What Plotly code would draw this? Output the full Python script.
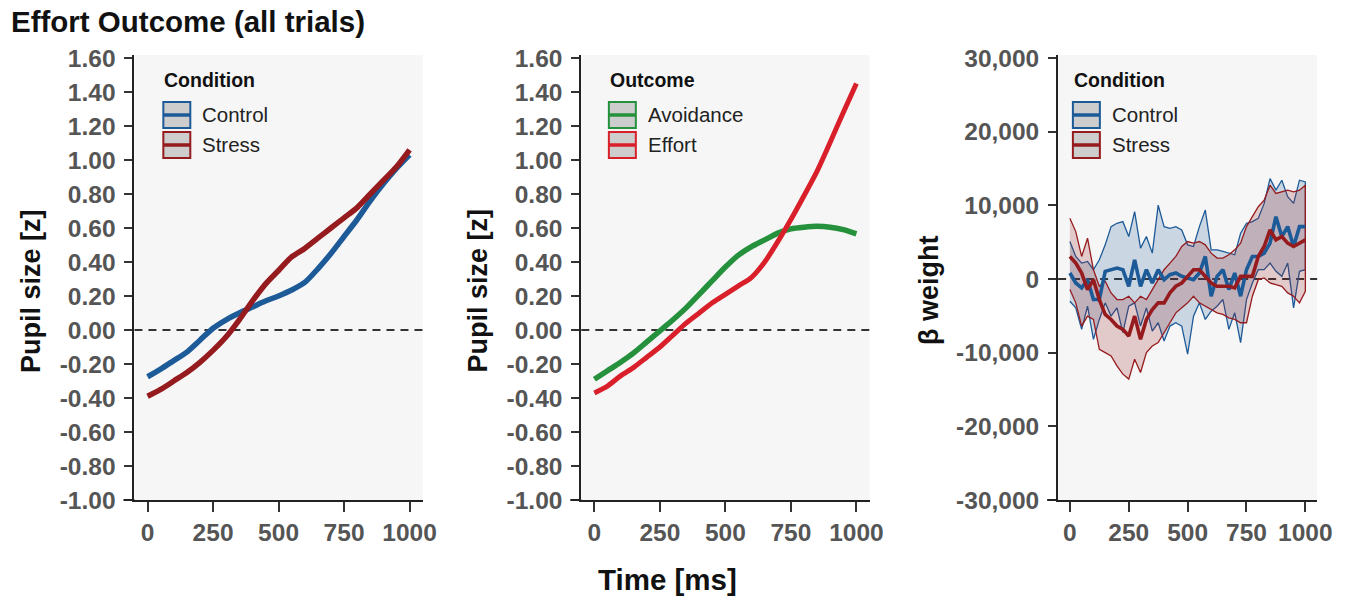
import plotly.graph_objects as go

# ---------------- data ----------------
time_ms = [0, 50, 100, 150, 200, 250, 300, 350, 400, 450, 500, 550, 600, 650, 700, 750, 800, 850, 900, 950, 1000]

control_pupil = [-0.275, -0.23, -0.18, -0.13, -0.06, 0.01, 0.06, 0.10, 0.135, 0.17, 0.20,
                 0.235, 0.28, 0.36, 0.45, 0.55, 0.65, 0.76, 0.86, 0.95, 1.03]
stress_pupil = [-0.39, -0.35, -0.30, -0.25, -0.19, -0.12, -0.04, 0.06, 0.17, 0.27, 0.35,
                0.43, 0.48, 0.54, 0.60, 0.66, 0.72, 0.80, 0.88, 0.96, 1.06]

avoidance_pupil = [-0.29, -0.24, -0.19, -0.135, -0.07, -0.005, 0.06, 0.13, 0.21, 0.29, 0.37,
                   0.44, 0.49, 0.53, 0.57, 0.595, 0.605, 0.61, 0.605, 0.59, 0.565]
effort_pupil = [-0.37, -0.33, -0.27, -0.22, -0.16, -0.10, -0.03, 0.04, 0.10, 0.16, 0.21,
                0.26, 0.31, 0.40, 0.52, 0.65, 0.79, 0.935, 1.105, 1.28, 1.45]

beta_time = [i * 25 for i in range(41)]
control_beta = [810, -540, -1215, -90, -2790, -2790, 1035, 1260, 1485, 1260, -990, 2610, -990, 1260,
                -540, 1260, -90, 585, 810, 360, 135, -90, 810, 3060, -2340, 360, 1260, -1440, 810,
                -2340, 1260, 3060, 3060, 3510, 4860, 8460, 5760, 7110, 4410, 7110, 7110]
control_upper = [5085, 3060, 2160, 2385, 1260, 2610, 4635, 7110, 7560, 7785, 5760, 9135, 4185, 5760,
                 3510, 10035, 7110, 6885, 7110, 6660, 4635, 4410, 7110, 9360, 3960, 3960, 3735, 3510,
                 3285, 6210, 7560, 7785, 8235, 10260, 13635, 12060, 13410, 11160, 10260, 13410, 13185]
control_lower = [-3015, -3915, -6840, -3690, -8190, -5490, -3240, -5040, -3915, -7290, -3690, -3240,
                 -6390, -3915, -7065, -5940, -8415, -6390, -5940, -6390, -10215, -5040, -3240, -5490,
                 -4365, -3690, -2790, -6840, -4590, -8640, -2790, -540, 1260, 1260, 2160, 1035, 360,
                 2160, -3915, 1035, 1260]
stress_beta = [3060, 2160, 810, -1440, -90, -2790, -4815, -5490, -6390, -6840, -7740, -5040, -8190,
               -5490, -4140, -3240, -3240, -1890, -990, -540, 360, 1260, 1260, 360, -540, -990, -990,
               -990, -1215, 360, 360, 360, 3060, 4410, 6660, 5310, 5760, 4860, 4410, 4860, 5310]
stress_upper = [8235, 6435, 3060, 5535, 1260, -990, -315, -1890, -2790, -2790, -2340, -3240, -2340,
                -2790, -1440, -90, 1260, 2160, 3060, 4410, 5085, 4860, 5085, 4635, 3510, 2835, 2835,
                3285, 3960, 4860, 7110, 8460, 9810, 10710, 12735, 11610, 11835, 12060, 11835, 12060, 12735]
stress_lower = [-1440, -3240, -6390, -5040, -5490, -9540, -9990, -10440, -11790, -12915, -13590,
                -10890, -12690, -9990, -9090, -8640, -7290, -5940, -4590, -3915, -3240, -2340, -3240,
                -3690, -4140, -4590, -4815, -5265, -5490, -5940, -5940, -2340, -90, 135, -540, -765,
                -990, -1890, -2340, -3240, -1665]

pupil_ticks = [-1.0, -0.8, -0.6, -0.4, -0.2, 0.0, 0.2, 0.4, 0.6, 0.8, 1.0, 1.2, 1.4, 1.6]
pupil_ticktext = ["%.2f" % v for v in pupil_ticks]
beta_ticks = [-30000, -20000, -10000, 0, 10000, 20000, 30000]
beta_ticktext = ["{:,}".format(v) for v in beta_ticks]
time_ticks = [0, 250, 500, 750, 1000]

# ---------------- style ----------------
# The photographed page comes out scaled (about 0.99 x 0.961) and shifted down by ~10 px,
# so the layout is designed in target-picture pixels and mapped back here.
SX, SY, OY = 0.99, 0.961, 10.0
W, H = 1361, 615
BLUE = "#1d5a98"
DRED = "#951b1e"
GREEN = "#25913c"
RED = "#d9202a"
BG = "#f6f6f6"
FONT = "Liberation Sans, Arial, sans-serif"
TICKCOL = "#555555"
TICKSIZE = 24.5
TITLESIZE = 29.5


def px(x):
    return (x / SX) / W


def py(y):
    return 1 - ((y - OY) / SY) / H


fig = go.Figure()

smooth = dict(shape="spline", smoothing=0.8)
fig.add_trace(go.Scatter(x=time_ms, y=control_pupil, mode="lines", line=dict(color=BLUE, width=5.5, **smooth),
                         xaxis="x", yaxis="y", showlegend=False))
fig.add_trace(go.Scatter(x=time_ms, y=stress_pupil, mode="lines", line=dict(color=DRED, width=5.5, **smooth),
                         xaxis="x", yaxis="y", showlegend=False))
fig.add_trace(go.Scatter(x=time_ms, y=avoidance_pupil, mode="lines", line=dict(color=GREEN, width=5.5, **smooth),
                         xaxis="x2", yaxis="y2", showlegend=False))
fig.add_trace(go.Scatter(x=time_ms, y=effort_pupil, mode="lines", line=dict(color=RED, width=5, **smooth),
                         xaxis="x2", yaxis="y2", showlegend=False))
fig.add_trace(go.Scatter(x=beta_time + beta_time[::-1], y=control_upper + control_lower[::-1],
                         mode="lines", fill="toself", fillcolor="rgba(29,90,152,0.20)",
                         line=dict(color=BLUE, width=1.3), xaxis="x3", yaxis="y3", showlegend=False))
fig.add_trace(go.Scatter(x=beta_time + beta_time[::-1], y=stress_upper + stress_lower[::-1],
                         mode="lines", fill="toself", fillcolor="rgba(149,27,30,0.20)",
                         line=dict(color=DRED, width=1.3), xaxis="x3", yaxis="y3", showlegend=False))
fig.add_trace(go.Scatter(x=beta_time, y=control_beta, mode="lines", line=dict(color=BLUE, width=3.6),
                         xaxis="x3", yaxis="y3", showlegend=False))
fig.add_trace(go.Scatter(x=beta_time, y=stress_beta, mode="lines", line=dict(color=DRED, width=3.6),
                         xaxis="x3", yaxis="y3", showlegend=False))

# geometry in target-picture pixels
YTOP, YBOT = 55, 500
panels = [(134.6, 423.1), (581.9, 870.4), (1059.2, 1318.5)]
ydom = [py(YBOT), py(YTOP)]
pupil_top = 1.6 + (58 - YTOP) / 170.0
beta_top = 30000 + (58 - YTOP) * 30000 / 221.0


def xaxis_cfg(i):
    x0, x1 = panels[i]
    return dict(domain=[px(x0), px(x1)], range=[-50, 1050], tickvals=time_ticks,
                ticks="outside", ticklen=10, tickwidth=2, tickcolor="#333",
                showline=True, linecolor="#222", linewidth=2, showgrid=False, zeroline=False,
                tickfont=dict(family=FONT, size=TICKSIZE, color=TICKCOL, weight="bold"),
                anchor="y" if i == 0 else "y%d" % (i + 1), fixedrange=True)


def yaxis_cfg(i, rng, ticks, ticktext):
    return dict(domain=ydom, range=rng, tickvals=ticks, ticktext=ticktext,
                ticks="outside", ticklen=8, tickwidth=2, tickcolor="#333",
                showline=True, linecolor="#222", linewidth=2, showgrid=False, zeroline=False,
                tickfont=dict(family=FONT, size=TICKSIZE, color=TICKCOL, weight="bold"),
                ticklabelstandoff=4,
                anchor="x" if i == 0 else "x%d" % (i + 1), fixedrange=True)


shapes = []
annotations = []
for i in range(3):
    xr = "x domain" if i == 0 else "x%d domain" % (i + 1)
    yr = "y" if i == 0 else "y%d" % (i + 1)
    yrd = "y domain" if i == 0 else "y%d domain" % (i + 1)
    shapes.append(dict(type="rect", xref=xr, yref=yrd, x0=0, x1=1, y0=0, y1=1,
                       fillcolor=BG, line=dict(width=0), layer="below"))
    shapes.append(dict(type="line", xref=xr, yref=yr, x0=0, x1=1, y0=0, y1=0,
                       line=dict(color="#333", width=2, dash="8px,6px"), layer="below"))
    pw = panels[i][1] - panels[i][0]
    shapes.append(dict(type="line", xref=xr, yref=yrd, x0=-11 / pw, x1=0, y0=0, y1=0,
                       line=dict(color="#222", width=2)))

legends = [
    (162.5, "Condition", [("Control", BLUE), ("Stress", DRED)]),
    (608.5, "Outcome", [("Avoidance", GREEN), ("Effort", RED)]),
    (1073.0, "Condition", [("Control", BLUE), ("Stress", DRED)]),
]
for lx, title, items in legends:
    annotations.append(dict(xref="paper", yref="paper", x=px(lx), y=py(80),
                            text="<b>%s</b>" % title, showarrow=False, xanchor="left", yanchor="middle",
                            font=dict(family=FONT, size=19.5, color="#111")))
    for k, (name, col) in enumerate(items):
        cy = 115 + 30 * k
        shapes.append(dict(type="rect", xref="paper", yref="paper",
                           x0=px(lx + 1), x1=px(lx + 28), y0=py(cy + 13), y1=py(cy - 13),
                           fillcolor="#cdcdcd", line=dict(color=col, width=2)))
        shapes.append(dict(type="line", xref="paper", yref="paper",
                           x0=px(lx + 1), x1=px(lx + 28), y0=py(cy), y1=py(cy),
                           line=dict(color=col, width=3.5)))
        annotations.append(dict(xref="paper", yref="paper", x=px(lx + 38), y=py(cy),
                                text=name, showarrow=False, xanchor="left", yanchor="middle",
                                font=dict(family=FONT, size=20.5, color="#222")))

annotations.append(dict(xref="paper", yref="paper", x=px(9), y=py(22), text="<b>Effort Outcome (all trials)</b>",
                        showarrow=False, xanchor="left", yanchor="middle",
                        font=dict(family=FONT, size=TITLESIZE, color="#111")))
annotations.append(dict(xref="paper", yref="paper", x=px(668), y=py(580), text="<b>Time [ms]</b>",
                        showarrow=False, xanchor="center", yanchor="middle",
                        font=dict(family=FONT, size=TITLESIZE, color="#111")))
for xpix, txt in [(31, "Pupil size [z]"), (478, "Pupil size [z]"), (930, "β weight")]:
    annotations.append(dict(xref="paper", yref="paper", x=px(xpix), y=py(291), text="<b>%s</b>" % txt,
                            showarrow=False, xanchor="center", yanchor="middle", textangle=-90,
                            font=dict(family=FONT, size=27, color="#111")))

fig.update_layout(
    width=W, height=H, autosize=False, margin=dict(l=0, r=0, t=0, b=0, pad=0),
    paper_bgcolor="white", plot_bgcolor="rgba(0,0,0,0)",
    xaxis=xaxis_cfg(0), xaxis2=xaxis_cfg(1), xaxis3=xaxis_cfg(2),
    yaxis=yaxis_cfg(0, [-1.0, pupil_top], pupil_ticks, pupil_ticktext),
    yaxis2=yaxis_cfg(1, [-1.0, pupil_top], pupil_ticks, pupil_ticktext),
    yaxis3=yaxis_cfg(2, [-30000, beta_top], beta_ticks, beta_ticktext),
    shapes=shapes, annotations=annotations, showlegend=False,
)

fig.write_html("out.html", config={"displayModeBar": False, "responsive": False})
